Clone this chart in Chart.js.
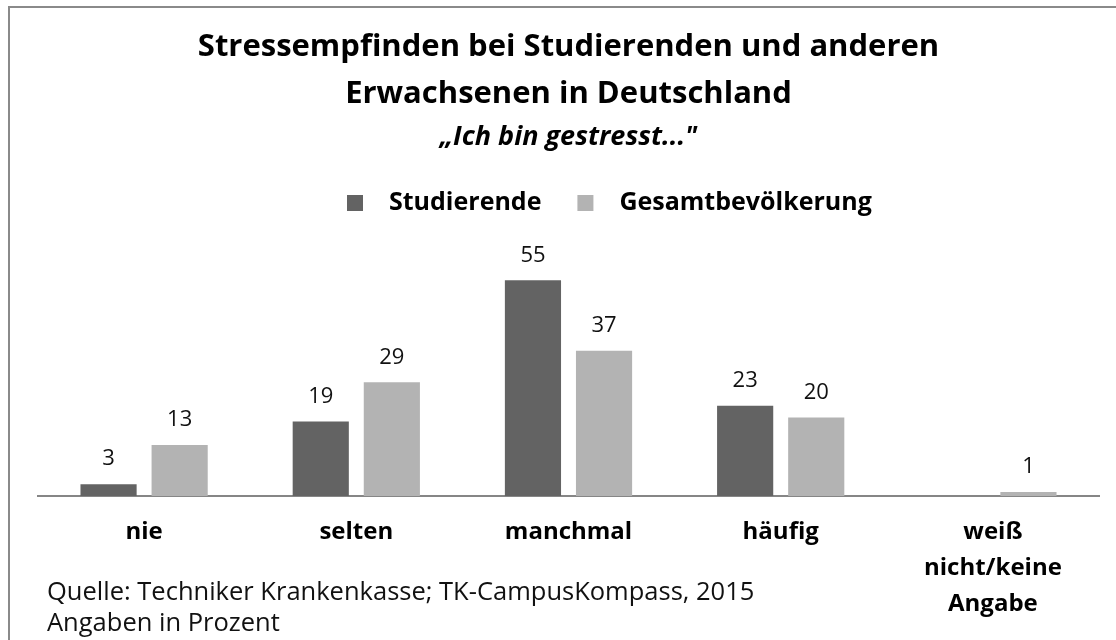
<!DOCTYPE html>
<html>
<head>
<meta charset="utf-8">
<style>
  body { margin: 0; background: #fff; }
  #wrap { width: 1116px; height: 640px; }
</style>
<script src="https://cdn.jsdelivr.net/npm/chart.js@4/dist/chart.umd.min.js"></script>
</head>
<body>
<div id="wrap"><canvas id="chart" width="1116" height="640"></canvas></div>
<script>
const categories = ['nie', 'selten', 'manchmal', 'häufig', ['weiß', 'nicht/keine', 'Angabe']];
const studierende = [3, 19, 55, 23, null];
const gesamt = [13, 29, 37, 20, 1];
const seriesNames = ['Studierende', 'Gesamtbevölkerung'];
const titleLines = ['Stressempfinden bei Studierenden und anderen', 'Erwachsenen in Deutschland'];
const subtitleText = '„Ich bin gestresst..."';
const sourceLines = ['Quelle: Techniker Krankenkasse; TK-CampusKompass, 2015', 'Angaben in Prozent'];

const DARK = '#636363';
const LIGHT = '#b3b3b3';
const FONT = '"Open Sans", sans-serif';

// frame, legend, value labels and source note
const extras = {
  id: 'extras',
  beforeDraw(chart) {
    const ctx = chart.ctx;
    ctx.save();
    ctx.fillStyle = '#fff';
    ctx.fillRect(0, 0, chart.width, chart.height);
    ctx.strokeStyle = '#8a8a8a';
    ctx.lineWidth = 2;
    ctx.strokeRect(9, 7, chart.width + 50, chart.height + 50);
    ctx.restore();
  },
  afterDatasetsDraw(chart) {
    const ctx = chart.ctx;
    ctx.save();
    ctx.font = '22px ' + FONT;
    ctx.fillStyle = '#111';
    ctx.textAlign = 'center';
    ctx.textBaseline = 'middle';
    chart.data.datasets.forEach((ds, i) => {
      chart.getDatasetMeta(i).data.forEach((bar, j) => {
        if (ds.data[j] == null) return;
        ctx.fillText(ds.data[j], bar.x, bar.y - 25);
      });
    });
    ctx.restore();
  },
  afterDraw(chart) {
    const ctx = chart.ctx;
    ctx.save();
    // legend
    ctx.font = 'bold 25px ' + FONT;
    ctx.textBaseline = 'middle';
    let x = 347;
    const y = 203;
    [DARK, LIGHT].forEach((c, i) => {
      ctx.fillStyle = c;
      ctx.fillRect(x, y - 8, 16, 16);
      x += 16 + 26;
      ctx.fillStyle = '#000';
      ctx.fillText(seriesNames[i], x, y);
      x += ctx.measureText(seriesNames[i]).width + 36;
    });
    // source
    ctx.font = '25.5px ' + FONT;
    ctx.fillStyle = '#111';
    ctx.fillText(sourceLines[0], 47, 593);
    ctx.fillText(sourceLines[1], 47, 624);
    ctx.restore();
  }
};

new Chart(document.getElementById('chart'), {
  type: 'bar',
  data: {
    labels: categories,
    datasets: [
      { label: seriesNames[0], data: studierende, backgroundColor: DARK },
      { label: seriesNames[1], data: gesamt, backgroundColor: LIGHT }
    ]
  },
  options: {
    responsive: false,
    devicePixelRatio: 1,
    animation: false,
    categoryPercentage: 0.67,
    barPercentage: 0.79,
    layout: { padding: { top: 8, left: 38, right: 17, bottom: 0 } },
    scales: {
      x: {
        grid: { display: false, drawTicks: false },
        border: { color: '#868686', width: 2 },
        ticks: {
          color: '#000',
          padding: 18,
          font: { family: FONT, size: 24, weight: 'bold', lineHeight: 1.5 },
          maxRotation: 0,
          autoSkip: false
        }
      },
      y: { display: false, min: 0, max: 70 }
    },
    plugins: {
      legend: { display: false },
      tooltip: { enabled: false },
      title: {
        display: true,
        text: titleLines,
        color: '#000',
        font: { family: FONT, size: 31, weight: 'bold', lineHeight: 1.5 },
        padding: { top: 16, bottom: 0 }
      },
      subtitle: {
        display: true,
        text: subtitleText,
        color: '#000',
        font: { family: FONT, size: 27, weight: 'bold', style: 'italic', lineHeight: 1.2 },
        padding: { top: 4, bottom: 68 }
      }
    }
  },
  plugins: [extras]
});
</script>
</body>
</html>
